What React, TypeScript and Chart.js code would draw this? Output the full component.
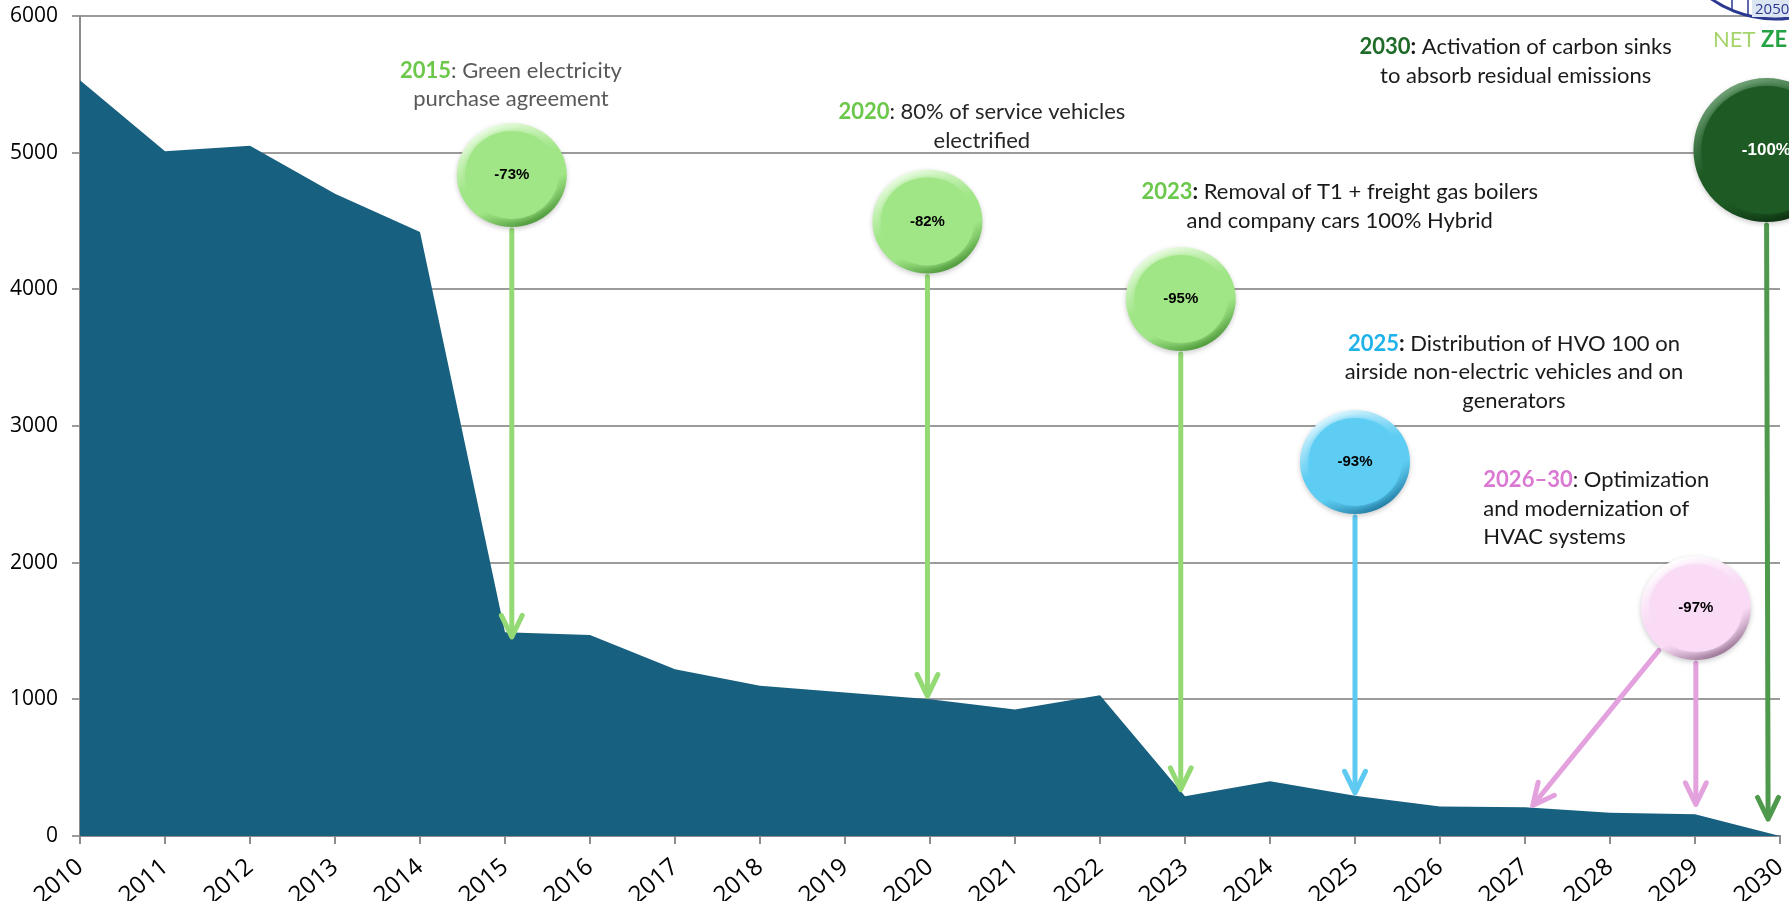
import React, { useEffect, useRef } from 'react';
import { Chart, registerables } from 'chart.js';

Chart.register(...registerables);

// ---------- data ----------
const YEARS = [2010, 2011, 2012, 2013, 2014, 2015, 2016, 2017, 2018, 2019, 2020, 2021, 2022, 2023, 2024, 2025, 2026, 2027, 2028, 2029, 2030];
const EMISSIONS = [5530, 5010, 5050, 4700, 4420, 1490, 1470, 1220, 1100, 1050, 1000, 925, 1030, 290, 400, 295, 215, 210, 170, 160, 0];
const Y_MIN = 0;
const Y_MAX = 6000;
const Y_STEP = 1000;

// milestones (data coordinates: year, value)
const BALL_LABELS = ['-73%', '-82%', '-95%', '-93%', '-97%', '-100%'];
const BALL_YEARS = [2015.08, 2019.97, 2022.95, 2025.0, 2029.01, 2029.84];
const BALL_VALUES = [4837, 4497, 3929, 2737, 1668, 5019];
const ARROW_TARGETS: number[][][] = [
  [[2015.08, 1456]],
  [[2019.97, 1024]],
  [[2022.95, 340]],
  [[2025.0, 315]],
  [[2027.09, 223], [2029.01, 231]],
  [[2029.86, 124]],
];
const NOTE_YEARS = [2015.07, 2020.61, 2024.82, 2026.87, 2026.51, 2026.89];
const NOTE_VALUES = [5600, 5299, 4714, 3604, 2605, 5773];
const NOTE_LINES: string[][][] = [
  [['2015', ': Green electricity'], ['', 'purchase agreement']],
  [['2020', ': 80% of service vehicles'], ['', 'electrified']],
  [['2023', ': Removal of T1 + freight gas boilers'], ['', 'and company cars 100% Hybrid']],
  [['2025', ': Distribution of HVO 100 on'], ['', 'airside non-electric vehicles and on'], ['', 'generators']],
  [['2026–30', ': Optimization'], ['', 'and modernization of'], ['', 'HVAC systems']],
  [['2030', ': Activation of carbon sinks'], ['', 'to absorb residual emissions']],
];

// ---------- styles ----------
const AREA_COLOR = '#17607F';
const GRID_COLOR = '#9B9B9B';
const AXIS_COLOR = '#8C8C8C';
const NOTE_ALIGN = ['center', 'center', 'center', 'center', 'left', 'center'];
const NOTE_KEY_COLORS = ['#6CC84A', '#6CC84A', '#6CC84A', '#1FB3EA', '#DA78D3', '#1E6B2A'];
const NOTE_TEXT_COLORS = ['#595959', '#262626', '#1A1A1A', '#1A1A1A', '#1A1A1A', '#1A1A1A'];
const NOTE_COLON_BOLD = [false, false, true, true, false, true];
const ARROW_COLORS = ['#93D974', '#93D974', '#93D974', '#5EC9F1', '#E3A2DE', '#4F994C'];
const BALL_STYLES = [
  { base: '#A0E686', top: '#EAFCE2', bottom: '#4F9A3C', text: '#000' },
  { base: '#A0E686', top: '#EAFCE2', bottom: '#4F9A3C', text: '#000' },
  { base: '#A0E686', top: '#EAFCE2', bottom: '#4F9A3C', text: '#000' },
  { base: '#5ECDF3', top: '#DDF6FF', bottom: '#237FA6', text: '#000' },
  { base: '#FADBF6', top: '#FFFFFF', bottom: '#9B7897', text: '#000' },
  { base: '#1D5A24', top: '#6FA276', bottom: '#0C3010', text: '#FFF' },
];
const BALL_RX = [55, 55, 55, 55, 55, 73];
const BALL_RY = [52, 52, 52, 52, 52, 72];

const NOTE_FONT = "Lato, 'Open Sans', sans-serif";
const NOTE_SIZE = 22;
const NOTE_LINE_H = 28.7;
const TICK_FONT = "'Open Sans', sans-serif";

function drawBall(ctx: CanvasRenderingContext2D, cx: number, cy: number, rx: number, ry: number, s: any) {
  ctx.save();
  ctx.translate(cx, cy);
  ctx.scale(rx / ry, 1);
  const r = ry;
  ctx.shadowColor = 'rgba(0,0,0,0.2)';
  ctx.shadowBlur = 5;
  ctx.shadowOffsetY = 2;
  const rim = ctx.createLinearGradient(-0.45 * r, -0.9 * r, 0.45 * r, 0.9 * r);
  rim.addColorStop(0, s.top);
  rim.addColorStop(0.45, s.base);
  rim.addColorStop(0.7, s.base);
  rim.addColorStop(1, s.bottom);
  ctx.beginPath();
  ctx.arc(0, 0, r, 0, Math.PI * 2);
  ctx.fillStyle = rim;
  ctx.fill();
  ctx.shadowColor = s.base;
  ctx.shadowOffsetY = 0;
  ctx.shadowBlur = 6;
  ctx.beginPath();
  ctx.arc(0, 0, r - 8, 0, Math.PI * 2);
  ctx.fillStyle = s.base;
  ctx.fill();
  ctx.restore();
}

function drawArrow(ctx: CanvasRenderingContext2D, x1: number, y1: number, x2: number, y2: number, color: string) {
  const ang = Math.atan2(y2 - y1, x2 - x1);
  const head = 24;
  const spread = 0.45;
  ctx.save();
  ctx.strokeStyle = color;
  ctx.lineWidth = 5;
  ctx.lineCap = 'round';
  ctx.lineJoin = 'round';
  ctx.beginPath();
  ctx.moveTo(x1, y1);
  ctx.lineTo(x2 - Math.cos(ang) * 3, y2 - Math.sin(ang) * 3);
  ctx.stroke();
  ctx.beginPath();
  ctx.moveTo(x2 - Math.cos(ang - spread) * head, y2 - Math.sin(ang - spread) * head);
  ctx.lineTo(x2, y2);
  ctx.lineTo(x2 - Math.cos(ang + spread) * head, y2 - Math.sin(ang + spread) * head);
  ctx.stroke();
  ctx.restore();
}

function drawNote(ctx: CanvasRenderingContext2D, i: number, x: number, y: number) {
  const lines = NOTE_LINES[i];
  const bold = `bold ${NOTE_SIZE}px ${NOTE_FONT}`;
  const reg = `${NOTE_SIZE}px ${NOTE_FONT}`;
  ctx.save();
  ctx.textBaseline = 'middle';
  ctx.textAlign = 'left';
  lines.forEach((ln, k) => {
    const segs: { t: string; f: string; c: string }[] = [];
    if (ln[0]) {
      segs.push({ t: ln[0], f: bold, c: NOTE_KEY_COLORS[i] });
      const rest = ln[1];
      if (NOTE_COLON_BOLD[i] && rest.startsWith(':')) {
        segs.push({ t: ':', f: bold, c: NOTE_TEXT_COLORS[i] });
        segs.push({ t: rest.slice(1), f: reg, c: NOTE_TEXT_COLORS[i] });
      } else {
        segs.push({ t: rest, f: reg, c: NOTE_TEXT_COLORS[i] });
      }
    } else {
      segs.push({ t: ln[1], f: reg, c: NOTE_TEXT_COLORS[i] });
    }
    let total = 0;
    segs.forEach((s) => { ctx.font = s.f; total += ctx.measureText(s.t).width; });
    let cx = NOTE_ALIGN[i] === 'center' ? x - total / 2 : x;
    const cy = y + k * NOTE_LINE_H;
    segs.forEach((s) => {
      ctx.font = s.f;
      ctx.fillStyle = s.c;
      ctx.fillText(s.t, cx, cy);
      cx += ctx.measureText(s.t).width;
    });
  });
  ctx.restore();
}

function drawLogo(ctx: CanvasRenderingContext2D, w: number) {
  ctx.save();
  const blue = '#2B3990';
  ctx.strokeStyle = blue;
  ctx.lineWidth = 3;
  ctx.beginPath();
  ctx.arc(w - 14, -92, 111, 0, Math.PI);
  ctx.stroke();
  ctx.lineWidth = 1.5;
  ctx.beginPath();
  ctx.moveTo(w - 57, 0); ctx.lineTo(w - 57, 11);
  ctx.moveTo(w - 41, 0); ctx.lineTo(w - 41, 16);
  ctx.stroke();
  ctx.fillStyle = '#DCE6F3';
  ctx.fillRect(w - 37, 0, 37, 17);
  ctx.fillStyle = blue;
  ctx.font = "15px 'Open Sans', sans-serif";
  ctx.textBaseline = 'alphabetic';
  ctx.fillText('2050', w - 34, 14);
  ctx.font = "22px Lato, sans-serif";
  ctx.fillStyle = '#A6D46C';
  ctx.fillText('NET ', w - 76, 47);
  const nw = ctx.measureText('NET ').width;
  ctx.font = "bold 22px Lato, sans-serif";
  ctx.fillStyle = '#25A244';
  ctx.fillText('ZE', w - 76 + nw, 47);
  ctx.restore();
}

const milestonePlugin = {
  id: 'milestones',
  afterDatasetsDraw(chart: any) {
    const ctx = chart.ctx as CanvasRenderingContext2D;
    const xs = chart.scales.x;
    const ys = chart.scales.y;
    BALL_YEARS.forEach((yr, i) => {
      const cx = xs.getPixelForValue(yr);
      const cy = ys.getPixelForValue(BALL_VALUES[i]);
      ARROW_TARGETS[i].forEach(([tx, tv]) => {
        const px = xs.getPixelForValue(tx);
        const py = ys.getPixelForValue(tv);
        const a = Math.atan2(py - cy, px - cx);
        const rx = BALL_RX[i], ry = BALL_RY[i];
        const sx = cx + Math.cos(a) * (rx + 3);
        const sy = cy + Math.sin(a) * (ry + 3);
        drawArrow(ctx, sx, sy, px, py, ARROW_COLORS[i]);
      });
    });
    BALL_YEARS.forEach((yr, i) => {
      const cx = xs.getPixelForValue(yr);
      const cy = ys.getPixelForValue(BALL_VALUES[i]);
      drawBall(ctx, cx, cy, BALL_RX[i], BALL_RY[i], BALL_STYLES[i]);
      ctx.save();
      ctx.font = `bold ${i === 5 ? 17 : 15}px 'Liberation Sans', Arial, sans-serif`;
      ctx.fillStyle = BALL_STYLES[i].text;
      ctx.textAlign = 'center';
      ctx.textBaseline = 'middle';
      ctx.fillText(BALL_LABELS[i], cx, cy);
      ctx.restore();
    });
    NOTE_YEARS.forEach((yr, i) => {
      drawNote(ctx, i, xs.getPixelForValue(yr), ys.getPixelForValue(NOTE_VALUES[i]));
    });
    drawLogo(ctx, chart.width);
  },
};

export default function App() {
  const ref = useRef<HTMLCanvasElement | null>(null);
  useEffect(() => {
    document.body.style.margin = '0';
    const canvas = ref.current;
    if (!canvas) return;
    const chart = new Chart(canvas, {
      type: 'line',
      data: {
        datasets: [
          {
            data: YEARS.map((y, i) => ({ x: y, y: EMISSIONS[i] })),
            backgroundColor: AREA_COLOR,
            borderColor: AREA_COLOR,
            borderWidth: 0,
            pointRadius: 0,
            fill: 'origin',
            tension: 0,
          },
        ],
      },
      options: {
        animation: false,
        responsive: false,
        devicePixelRatio: 1,
        layout: { padding: { top: 16, right: 9, left: 0, bottom: 0 } },
        plugins: { legend: { display: false }, tooltip: { enabled: false } },
        scales: {
          x: {
            type: 'linear',
            min: YEARS[0],
            max: YEARS[YEARS.length - 1],
            afterFit: (s: any) => { s.height = 65; s.paddingLeft = 0; s.paddingRight = 0; },
            afterBuildTicks: (s: any) => { s.ticks = YEARS.map((v) => ({ value: v })); },
            ticks: {
              stepSize: 1,
              autoSkip: false,
              maxRotation: 40,
              minRotation: 40,
              padding: 9,
              color: '#000',
              font: { family: TICK_FONT, size: 24 },
              callback: (v: any) => String(v),
            },
            grid: { drawOnChartArea: false, drawTicks: true, tickLength: 8, color: AXIS_COLOR, lineWidth: 2 },
            border: { display: true, color: AXIS_COLOR, width: 2 },
          },
          y: {
            min: Y_MIN,
            max: Y_MAX,
            afterFit: (s: any) => { s.width = 80; s.paddingTop = 0; s.paddingBottom = 0; },
            ticks: {
              stepSize: Y_STEP,
              padding: 14,
              color: '#000',
              font: { family: TICK_FONT, size: 21 },
              callback: (v: any) => String(v),
            },
            grid: { color: GRID_COLOR, lineWidth: 2, tickLength: 8, drawTicks: true },
            border: { display: true, color: AXIS_COLOR, width: 2 },
          },
        },
      },
      plugins: [milestonePlugin],
    });
    return () => chart.destroy();
  }, []);
  return (
    <div style={{ position: 'fixed', left: 0, top: 0, width: 1789, height: 901, background: '#fff' }}>
      <canvas ref={ref} width={1789} height={901} style={{ display: 'block' }} />
    </div>
  );
}
